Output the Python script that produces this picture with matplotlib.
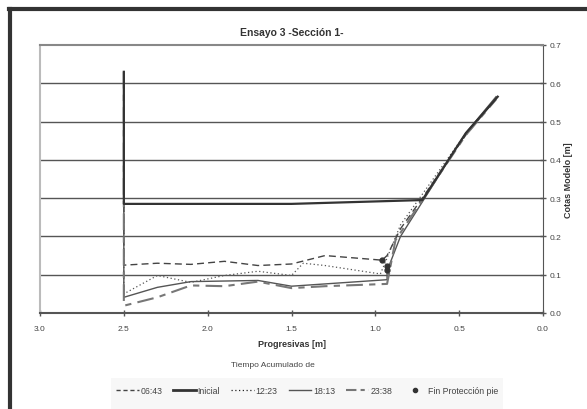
import numpy as np
import matplotlib.pyplot as plt
from matplotlib.lines import Line2D
from matplotlib.patches import Rectangle

plt.rcParams['font.family'] = ['Liberation Sans', 'DejaVu Sans']

# progresivas [m] / cotas [m]
inicial_x = [2.5, 2.5, 1.5, 0.72, 0.46, 0.27]
inicial_y = [0.63, 0.285, 0.285, 0.295, 0.47, 0.565]

t0643_x = [2.5, 2.5, 2.3, 2.1, 1.9, 1.7, 1.5, 1.3, 0.96, 0.93, 0.85, 0.72, 0.46, 0.28]
t0643_y = [0.63, 0.125, 0.130, 0.127, 0.135, 0.124, 0.128, 0.150, 0.138, 0.150, 0.220, 0.300, 0.465, 0.560]

t1223_x = [2.5, 2.5, 2.3, 2.1, 1.9, 1.7, 1.5, 1.43, 1.3, 0.97, 0.94, 0.85, 0.72, 0.46, 0.28]
t1223_y = [0.63, 0.050, 0.098, 0.080, 0.098, 0.109, 0.098, 0.130, 0.124, 0.102, 0.133, 0.230, 0.310, 0.470, 0.560]

t1813_x = [2.5, 2.5, 2.3, 2.1, 1.7, 1.5, 0.93, 0.93, 0.85, 0.72, 0.46, 0.28]
t1813_y = [0.63, 0.041, 0.067, 0.082, 0.085, 0.070, 0.087, 0.110, 0.200, 0.290, 0.470, 0.565]

t2338_x = [2.5, 2.5, 2.3, 2.1, 1.9, 1.7, 1.5, 1.3, 0.93, 0.88, 0.72, 0.46, 0.28]
t2338_y = [0.63, 0.019, 0.041, 0.072, 0.070, 0.082, 0.065, 0.070, 0.076, 0.190, 0.295, 0.465, 0.558]

fin_x = [0.96, 0.93, 0.93]
fin_y = [0.138, 0.124, 0.113]

fig = plt.figure(figsize=(5.87, 4.10), dpi=100)
ax = fig.add_axes([40 / 587, 1 - 314 / 410, 503 / 587, 268 / 410])

# horizontal gridlines
for g in np.arange(0.1, 0.7, 0.1):
    ax.axhline(g, color='#555555', lw=1.0, zorder=1)

ax.plot(t0643_x, t0643_y, color='#444444', lw=1.0, ls=(0, (5, 3)), zorder=3)
ax.plot(t1223_x, t1223_y, color='#555555', lw=0.9, ls=(0, (1, 2)), zorder=3)
ax.plot(t1813_x, t1813_y, color='#555555', lw=1.0, zorder=3)
ax.plot(t2338_x, t2338_y, color='#777777', lw=1.5, ls=(0, (8, 3, 3, 3)), zorder=3)
ax.plot(inicial_x, inicial_y, color='#333333', lw=1.6, zorder=4)
ax.plot(fin_x, fin_y, 'o', color='#333333', ms=3.5, zorder=5)

ax.set_xlim(3.0, 0.0)
ax.set_ylim(0.0, 0.7)
ax.set_xticks(np.arange(0, 3.01, 0.5))
ax.set_yticks(np.arange(0, 0.71, 0.1))
ax.xaxis.set_major_formatter(plt.FormatStrFormatter('%.1f'))
ax.yaxis.set_major_formatter(plt.FormatStrFormatter('%.1f'))
ax.yaxis.tick_right()
ax.yaxis.set_label_position('right')
ax.tick_params(axis='x', direction='inout', length=5, width=1, color='#555555',
               labelsize=6, labelcolor='#444444', pad=6)
ax.tick_params(axis='y', direction='inout', length=5, width=1, color='#555555',
               labelsize=6, labelcolor='#444444', pad=2)

ax.spines['left'].set_color('#bbbbbb')
ax.spines['left'].set_linewidth(1.5)
ax.spines['top'].set_color('#888888')
ax.spines['top'].set_linewidth(1.5)
ax.spines['right'].set_color('#555555')
ax.spines['bottom'].set_color('#555555')
ax.spines['bottom'].set_linewidth(1.5)

ax.set_title('Ensayo 3 -Sección 1-', fontsize=7.5, fontweight='bold', color='#333333', pad=7)
ax.set_xlabel('Progresivas [m]', fontsize=6.5, fontweight='bold', color='#333333', labelpad=5)
ax.set_ylabel('Cotas Modelo [m]', fontsize=6.5, fontweight='bold', color='#333333', labelpad=2)

# outer frame (top and left edges only)
fig.add_artist(Line2D([10 / 587, 10 / 587], [0, 1 - 9.5 / 410], transform=fig.transFigure,
                      color='#333333', lw=3))
fig.add_artist(Line2D([8.5 / 587, 1], [1 - 9.5 / 410, 1 - 9.5 / 410], transform=fig.transFigure,
                      color='#333333', lw=3))

# legend area
fig.add_artist(Rectangle((111 / 587, 0), 392 / 587, 31 / 410, transform=fig.transFigure,
                         facecolor='#f7f7f7', edgecolor='none', zorder=0))
fig.text(273 / 587, 1 - 366 / 410, 'Tiempo Acumulado de', fontsize=6, color='#444444',
         ha='center', va='center')

handles = [
    Line2D([], [], color='#444444', lw=1.0, ls=(0, (3, 2))),
    Line2D([], [], color='#333333', lw=2.0),
    Line2D([], [], color='#222222', lw=0.9, ls=(0, (1, 2))),
    Line2D([], [], color='#555555', lw=1.0),
    Line2D([], [], color='#777777', lw=1.5, ls=(0, (5, 2, 2, 2))),
    Line2D([], [], color='#333333', marker='o', ls='none', ms=3),
]
labels = ['06:43', 'Inicial', '12:23', '18:13', '23:38', 'Fin Protección pie']
fig.legend(handles, labels, loc='center', bbox_to_anchor=(307 / 587, 1 - 392 / 410),
           ncol=6, frameon=False, fontsize=6.3, handlelength=2.6, handletextpad=0.2,
           columnspacing=1.25, labelcolor='#444444')

fig.savefig('out.png', dpi=100)
